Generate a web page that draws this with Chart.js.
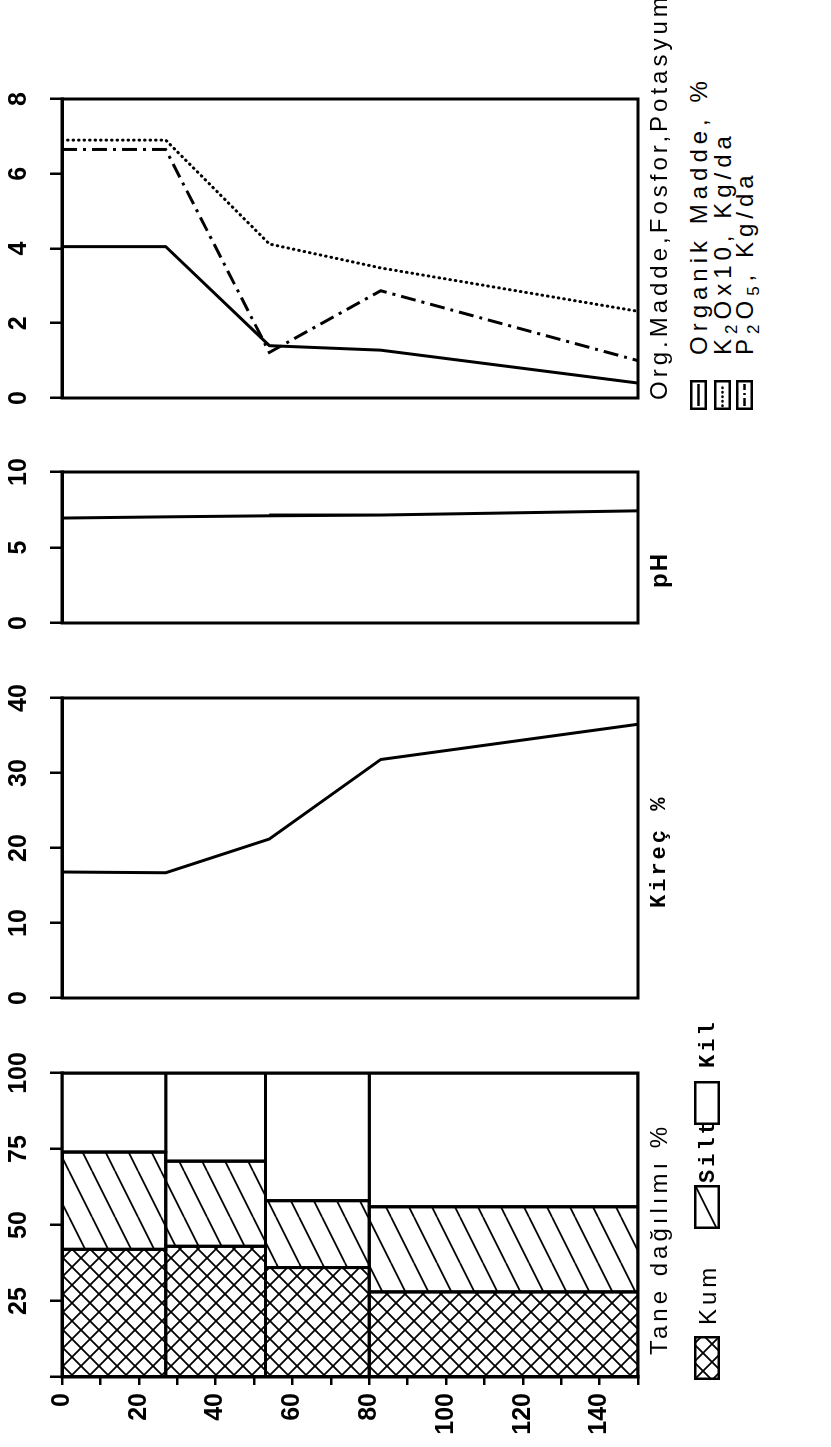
<!DOCTYPE html>
<html lang="tr">
<head>
<meta charset="UTF-8">
<meta name="viewport" content="width=831, initial-scale=1.0">
<title>Toprak profili - Org. Madde, pH, Kireç, Tane dağılımı</title>
<script src="https://cdn.jsdelivr.net/npm/chart.js"></script>
<style>
  html, body { margin: 0; padding: 0; background: #fff; }
  body { width: 831px; height: 1447px; overflow: hidden; position: relative; }
  /* figure is built in landscape, then turned a quarter turn to the left like the scan */
  #sheet { position: absolute; left: 0; top: 0; width: 1447px; height: 831px;
           transform-origin: 0 0; transform: translateY(1447px) rotate(-90deg); }
  #sheet canvas { position: absolute; top: 0; }
  .txt { position: absolute; white-space: nowrap; color: #000;
         font-family: 'Liberation Sans', Arial, sans-serif; font-size: 24px; line-height: 24px; letter-spacing: 4px; }
  .mono { font-family: 'Liberation Mono', 'DejaVu Sans Mono', monospace; font-size: 22px; letter-spacing: 3px; font-weight: bold; }
  .txt sub { font-size: 17px; vertical-align: -6px; line-height: 0; }
</style>
</head>
<body>
<div id="sheet">
  <canvas id="taneChart" width="398" height="652" style="left:0px"></canvas>
  <canvas id="kirecChart" width="344" height="652" style="left:429px"></canvas>
  <canvas id="phChart" width="195" height="652" style="left:804px"></canvas>
  <canvas id="orgChart" width="343" height="652" style="left:1029px"></canvas>

  <!-- panel titles and legends -->
  <div class="txt" style="left:92px; top:647px">Tane dağılımı %</div>
  <canvas id="swKum" width="44" height="26" style="left:67px; top:694px"></canvas>
  <div class="txt" style="left:122px; top:696px">Kum</div>
  <canvas id="swSilt" width="44" height="26" style="left:218px; top:694px"></canvas>
  <div class="txt mono" style="left:264px; top:697px">Silt</div>
  <canvas id="swKil" width="44" height="26" style="left:322px; top:694px"></canvas>
  <div class="txt mono" style="left:379px; top:697px">Kil</div>

  <div class="txt mono" style="left:539px; top:648px">Kireç %</div>
  <div class="txt" style="left:859px; top:647px; font-weight:bold; letter-spacing:2px">pH</div>

  <div class="txt" style="left:1047px; top:647px">Org.Madde,Fosfor,Potasyum</div>
  <canvas id="swOrg" width="30" height="17" style="left:1037px; top:690px"></canvas>
  <div class="txt" style="left:1092px; top:687px; letter-spacing:5px">Organik Madde, %</div>
  <canvas id="swK" width="30" height="17" style="left:1037px; top:714px"></canvas>
  <div class="txt" style="left:1092px; top:711px; letter-spacing:5px">K<sub>2</sub>Ox10, Kg/da</div>
  <canvas id="swP" width="30" height="17" style="left:1037px; top:736px"></canvas>
  <div class="txt" style="left:1092px; top:733px; letter-spacing:5px">P<sub>2</sub>O<sub>5</sub>, Kg/da</div>
</div>

<script>
// depth (cm) of the points on the line profiles
const depthPoints = [0, 27, 54, 83, 150];
const orgMadde = [4.05, 4.05, 1.4, 1.28, 0.4];
const k2oX10 = [6.9, 6.9, 4.12, 3.48, 2.32];
const p2o5 = [6.65, 6.65, 1.22, 2.87, 1.0];
const phValues = [6.95, 7.03, 7.1, 7.15, 7.43];
const kirecValues = [16.8, 16.7, 21.2, 31.8, 36.5];

// horizons for the texture bars
const horizonTop = [0, 27, 53, 80];
const horizonBottom = [27, 53, 80, 150];
const kum = [42, 43, 36, 28];
const silt = [32, 28, 22, 28];
const kil = [26, 29, 42, 44];

// tick labels
const orgTicks = [0, 2, 4, 6, 8];
const phTicks = [0, 5, 10];
const kirecTicks = [0, 10, 20, 30, 40];
const taneTicks = [0, 25, 50, 75, 100];
const depthTicks = [0, 20, 40, 60, 80, 100, 120, 140];
const depthMax = 150;

const black = '#000';
const TOP = 62;    // height of the value axis strip
const LEFT = 70;   // width of the depth axis strip
const tickFont = { family: "'Liberation Sans', Arial, sans-serif", size: 25, weight: 'bold' };

function hatch(w, h, draw) {
  const c = document.createElement('canvas');
  c.width = w; c.height = h;
  const g = c.getContext('2d');
  g.strokeStyle = black;
  g.lineWidth = 1.8;
  draw(g, w, h);
  return g.createPattern(c, 'repeat');
}
const kumPattern = hatch(18, 18, (g, w, h) => {
  for (const o of [-w, 0, w]) {
    g.beginPath();
    g.moveTo(o, 0); g.lineTo(o + w, h);
    g.moveTo(o, h); g.lineTo(o + w, 0);
    g.stroke();
  }
});
const siltPattern = hatch(46, 23, (g, w, h) => {
  for (const o of [-h, 0, h]) {
    g.beginPath();
    g.moveTo(0, h + o); g.lineTo(w, o);
    g.stroke();
  }
});

// outline of the plot area
const framePlugin = {
  id: 'frame',
  afterDatasetsDraw(chart) {
    const { ctx, chartArea: a } = chart;
    ctx.save();
    ctx.strokeStyle = black;
    ctx.lineWidth = 3;
    ctx.strokeRect(a.left, a.top, a.right - a.left, a.bottom - a.top);
    ctx.restore();
  }
};

function valueAxis(ticks, hideZero) {
  return {
    type: 'linear', position: 'top',
    min: ticks[0], max: ticks[ticks.length - 1],
    afterBuildTicks: s => { s.ticks = ticks.map(v => ({ value: v })); },
    ticks: { color: black, font: tickFont, padding: 16, maxRotation: 0, autoSkip: false,
             callback: v => (hideZero && v === 0) ? '' : String(v) },
    grid: { drawOnChartArea: false, drawTicks: true, tickLength: 12, color: black, lineWidth: 2.5 },
    border: { display: true, color: black, width: 3 },
    afterFit: s => { s.height = TOP; s.paddingLeft = 0; s.paddingRight = 0; }
  };
}

function depthAxis(show) {
  return {
    type: 'linear', reverse: true, min: 0, max: depthMax, display: show,
    ticks: { stepSize: 10, color: black, font: tickFont, padding: 8, autoSkip: false,
             callback: v => depthTicks.includes(v) ? String(v) : '' },
    grid: { drawOnChartArea: false, drawTicks: true, tickLength: 8, color: black, lineWidth: 2.5 },
    border: { display: true, color: black, width: 3 },
    afterFit: s => { s.width = show ? LEFT : 0; s.paddingTop = 0; s.paddingBottom = 0; }
  };
}

function makeChart(id, datasets, xAxis, showDepth, padL) {
  return new Chart(document.getElementById(id), {
    type: 'scatter',
    data: { datasets },
    options: {
      responsive: false, animation: false, devicePixelRatio: 1,
      layout: { padding: { left: padL, right: 24, top: 0, bottom: 14 } },
      plugins: { legend: { display: false }, tooltip: { enabled: false } },
      scales: { x: xAxis, y: depthAxis(showDepth) }
    },
    plugins: [framePlugin]
  });
}

function lineSet(label, values, dash, cap) {
  return {
    label,
    data: values.map((v, i) => ({ x: v, y: depthPoints[i] })),
    showLine: true, borderColor: black, borderWidth: 3,
    borderDash: dash, borderCapStyle: cap, pointRadius: 0, fill: false
  };
}

function box(label, x0, x1, i, bg) {
  return {
    label,
    data: [
      { x: x0, y: horizonTop[i] }, { x: x1, y: horizonTop[i] },
      { x: x1, y: horizonBottom[i] }, { x: x0, y: horizonBottom[i] },
      { x: x0, y: horizonTop[i] }
    ],
    showLine: true, fill: 'shape', backgroundColor: bg,
    borderColor: black, borderWidth: 3, pointRadius: 0
  };
}

const taneSets = [];
for (let i = 0; i < kum.length; i++) {
  const a = kum[i], b = kum[i] + silt[i], c = b + kil[i];
  taneSets.push(box('Kum', 0, a, i, kumPattern));
  taneSets.push(box('Silt', a, b, i, siltPattern));
  taneSets.push(box('Kil', b, c, i, '#fff'));
}

makeChart('taneChart', taneSets, valueAxis(taneTicks, true), true, 0);
makeChart('kirecChart', [lineSet('Kireç %', kirecValues, [], 'butt')], valueAxis(kirecTicks, false), false, 20);
makeChart('phChart', [lineSet('pH', phValues, [], 'butt')], valueAxis(phTicks, false), false, 20);
makeChart('orgChart', [
  lineSet('Organik Madde, %', orgMadde, [], 'butt'),
  lineSet('K2Ox10, Kg/da', k2oX10, [0.5, 5], 'round'),
  lineSet('P2O5, Kg/da', p2o5, [15, 6, 3, 6], 'butt')
], valueAxis(orgTicks, false), false, 20);

// legend swatches
function swatch(id, fill, dash, cap) {
  const c = document.getElementById(id);
  const g = c.getContext('2d');
  if (fill) { g.fillStyle = fill; g.fillRect(1, 1, c.width - 2, c.height - 2); }
  g.strokeStyle = black;
  g.lineWidth = 2.5;
  g.strokeRect(1.25, 1.25, c.width - 2.5, c.height - 2.5);
  if (dash) {
    g.setLineDash(dash);
    g.lineCap = cap;
    g.beginPath();
    g.moveTo(4, c.height / 2); g.lineTo(c.width - 4, c.height / 2);
    g.stroke();
  }
}
swatch('swKum', kumPattern);
swatch('swSilt', siltPattern);
swatch('swKil', '#fff');
swatch('swOrg', null, [], 'butt');
swatch('swK', null, [0.5, 4], 'round');
swatch('swP', null, [8, 3, 2, 3], 'butt');
</script>
</body>
</html>
